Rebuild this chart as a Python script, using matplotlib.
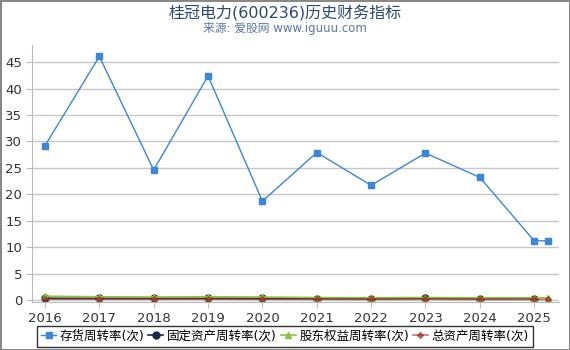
import matplotlib.pyplot as plt

plt.rcParams['font.family'] = ['DejaVu Sans', 'Noto Sans CJK SC']

years = [2016, 2017, 2018, 2019, 2020, 2021, 2022, 2023, 2024, 2025, 2025.25]
inventory = [29.2, 46.1, 24.6, 42.4, 18.7, 27.9, 21.7, 27.8, 23.2, 11.2, 11.2]
fixed_asset = [0.32, 0.30, 0.30, 0.30, 0.28, 0.26, 0.24, 0.30, 0.25, 0.27]
equity = [0.70, 0.60, 0.55, 0.60, 0.55, 0.45, 0.42, 0.45, 0.40, 0.40, 0.42]
total_asset = [0.15, 0.15, 0.14, 0.15, 0.13, 0.12, 0.11, 0.13, 0.11, 0.10, 0.11]
tick_years = [2016, 2017, 2018, 2019, 2020, 2021, 2022, 2023, 2024, 2025]

fig = plt.figure(figsize=(5.7, 3.5), dpi=100)
fig.patch.set_edgecolor('#888888')
fig.patch.set_linewidth(2)
ax = fig.add_axes([0.057, 0.137, 0.924, 0.735])

ax.plot(years, inventory, color='#3c87dc', linewidth=1, marker='s', markersize=5,
        label='存货周转率(次)')
ax.plot(years[:-1], fixed_asset, color='#152a44', linewidth=1.2, marker='o', markersize=5,
        label='固定资产周转率(次)')
ax.plot(years, equity, color='#8cc43c', linewidth=1.2, marker='^', markersize=5,
        label='股东权益周转率(次)')
ax.plot(years, total_asset, color='#a02020', linewidth=1.2, marker='D', markersize=3,
        alpha=0.6, label='总资产周转率(次)')

ax.set_xlim(2015.77, 2025.46)
ax.set_ylim(-0.4, 48.3)
ax.set_xticks(tick_years)
ax.set_yticks(range(0, 50, 5))
ax.tick_params(axis='both', labelsize=9.5, colors='#333333', length=4, color='#bbbbbb')
ax.grid(axis='y', color='#c8c8c8', linewidth=1)
ax.set_axisbelow(True)
for side in ['top', 'right']:
    ax.spines[side].set_visible(False)
ax.spines['left'].set_color('#bbbbbb')
ax.spines['bottom'].set_color('#bbbbbb')

fig.text(0.5, 0.963, '桂冠电力(600236)历史财务指标', ha='center', va='center',
         fontsize=11.5, color='#2b4a6f')
fig.text(0.5, 0.918, '来源: 爱股网 www.iguuu.com', ha='center', va='center',
         fontsize=8.5, color='#5a7aa0')

leg = fig.legend(loc='lower center', bbox_to_anchor=(0.5, -0.008), ncol=4, fontsize=9,
                 frameon=True, fancybox=False, edgecolor='black', handlelength=1.2,
                 handletextpad=0.3, columnspacing=0.3, borderpad=0.3)
leg.get_frame().set_linewidth(1)

fig.savefig('out.png', dpi=100)
